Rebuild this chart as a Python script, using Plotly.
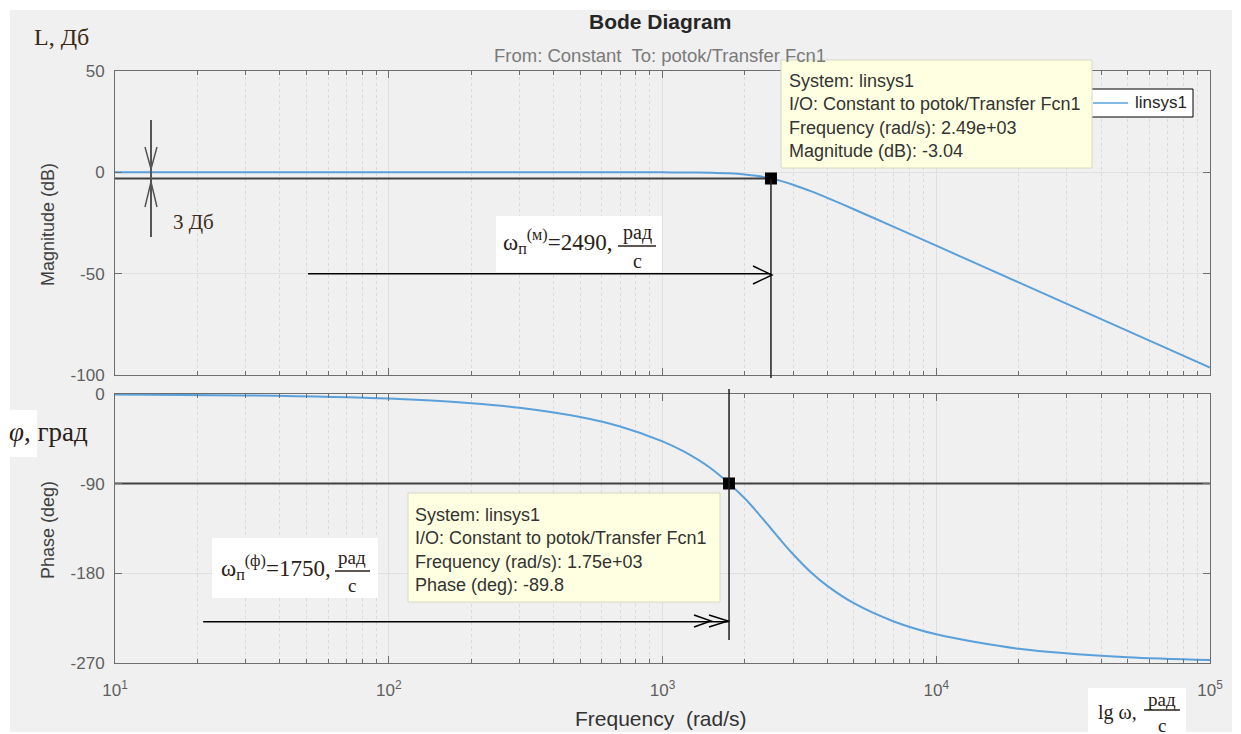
import plotly.graph_objects as go

W, H = 1241, 734
OFF = 8  # page body margin in which the figure is placed

# ---------------- data ----------------
freq_rad_s = [10, 30, 100, 200, 300, 500, 700, 1000, 1200, 1500, 1750, 2000, 2200,
              2490, 2700, 3000, 3500, 4000, 5000, 7000, 10000, 20000, 50000, 100000]
magnitude_db = [0, 0, 0, 0, 0, 0, 0, -0.02, -0.05, -0.2, -0.49, -1.03, -1.69,
                -3.04, -4.2, -6.1, -9.4, -12.6, -18.2, -26.9, -36.2, -54.3, -78.2, -96.3]
phase_deg = [-0.5, -1.4, -4.6, -9.2, -13.8, -23.1, -32.6, -47.5, -57.9, -74.5, -89.8,
             -104.9, -117.5, -135, -146.5, -160.8, -179.4, -192.6, -210, -228.3,
             -241.2, -255.7, -264.3, -267.1]

x_tick_vals = [10, 100, 1000, 10000, 100000]
x_tick_text = ["10<sup>1</sup>", "10<sup>2</sup>", "10<sup>3</sup>", "10<sup>4</sup>", "10<sup>5</sup>"]
mag_ticks = [50, 0, -50, -100]
mag_tick_text = ["50", "0", "-50", "-100"]
phase_ticks = [0, -90, -180, -270]
phase_tick_text = ["0", "-90", "-180", "-270"]

tip_mag_freq, tip_mag_val = 2490, -3.04
tip_phase_freq, tip_phase_val = 1750, -89.8
arrow_mag_start, arrow_mag_level = 50.7, -50
arrow_phase_start, arrow_phase_level = 21, -228.5

tip_mag_lines = ["System: linsys1", "I/O: Constant to potok/Transfer Fcn1",
                 "Frequency (rad/s): 2.49e+03", "Magnitude (dB): -3.04"]
tip_phase_lines = ["System: linsys1", "I/O: Constant to potok/Transfer Fcn1",
                   "Frequency (rad/s): 1.75e+03", "Phase (deg): -89.8"]

# ---------------- styling ----------------
BLUE = "#5aa0da"
FRAME = "#6e6e6e"
GRID_MAJ = "#e0e0e0"
GRID_MIN = "#dadada"
SANS = "Liberation Sans, Arial, sans-serif"
SERIF = "Liberation Serif, Times New Roman, serif"
INK = "#2a2118"


def X(px):
    return (px - OFF) / W


def Y(py):
    return 1 - (py - OFF) / H


minor_vals = [m * 10 ** e for e in range(1, 5) for m in range(2, 10)]

fig = go.Figure()

fig.add_trace(go.Scatter(x=freq_rad_s, y=magnitude_db, mode="lines", name="linsys1",
                         line=dict(color=BLUE, width=2, shape="spline", smoothing=0.8),
                         xaxis="x", yaxis="y", showlegend=False))
fig.add_trace(go.Scatter(x=freq_rad_s, y=phase_deg, mode="lines", name="linsys1",
                         line=dict(color=BLUE, width=2, shape="spline", smoothing=0.8),
                         xaxis="x2", yaxis="y2", showlegend=False))

# guide lines
fig.add_trace(go.Scatter(x=[freq_rad_s[0], tip_mag_freq], y=[tip_mag_val, tip_mag_val],
                         mode="lines", line=dict(color="#404040", width=2),
                         xaxis="x", yaxis="y", showlegend=False))
fig.add_trace(go.Scatter(x=[freq_rad_s[0], freq_rad_s[-1]], y=[tip_phase_val, tip_phase_val],
                         mode="lines", line=dict(color="#404040", width=2),
                         xaxis="x2", yaxis="y2", showlegend=False))
fig.add_trace(go.Scatter(x=[arrow_mag_start, tip_mag_freq], y=[arrow_mag_level, arrow_mag_level],
                         mode="lines", line=dict(color="#000000", width=1.5),
                         xaxis="x", yaxis="y", showlegend=False))
fig.add_trace(go.Scatter(x=[arrow_phase_start, tip_phase_freq], y=[arrow_phase_level, arrow_phase_level],
                         mode="lines", line=dict(color="#000000", width=1.5),
                         xaxis="x2", yaxis="y2", showlegend=False))

# data tip markers
fig.add_trace(go.Scatter(x=[tip_mag_freq], y=[tip_mag_val], mode="markers",
                         marker=dict(symbol="square", size=12, color="black"),
                         xaxis="x", yaxis="y", showlegend=False))
fig.add_trace(go.Scatter(x=[tip_phase_freq], y=[tip_phase_val], mode="markers",
                         marker=dict(symbol="square", size=12, color="black"),
                         xaxis="x2", yaxis="y2", showlegend=False))

xcommon = dict(type="log", range=[1, 5], domain=[X(115), X(1210)], showline=True, automargin=False,
               linecolor=FRAME, linewidth=1, mirror="ticks", ticks="inside", ticklen=7,
               tickcolor=FRAME, tickmode="array", tickvals=x_tick_vals, showgrid=True,
               gridcolor=GRID_MAJ, gridwidth=1, zeroline=False,
               minor=dict(tickmode="array", tickvals=minor_vals, ticks="inside", ticklen=4,
                          tickcolor=FRAME, showgrid=True, gridcolor=GRID_MIN, griddash="dot"))
ycommon = dict(showline=True, linecolor=FRAME, linewidth=1, mirror="ticks", ticks="inside",
               automargin=False, ticklen=7, tickcolor=FRAME, tickmode="array", showgrid=True,
               gridcolor=GRID_MAJ, zeroline=False,
               tickfont=dict(family=SANS, size=17, color="#5f5f5f"), ticklabelstandoff=6)

fig.update_layout(
    width=W, height=H, margin=dict(l=0, r=0, t=0, b=0, pad=0, autoexpand=False),
    paper_bgcolor="white", plot_bgcolor="white", showlegend=False,
    xaxis=dict(xcommon, anchor="y", showticklabels=False),
    xaxis2=dict(xcommon, anchor="y2", ticktext=x_tick_text,
                tickfont=dict(family=SANS, size=17, color="#5f5f5f"), ticklabelstandoff=12),
    yaxis=dict(ycommon, anchor="x", domain=[Y(375), Y(71)], range=[-100, 50],
               tickvals=mag_ticks, ticktext=mag_tick_text),
    yaxis2=dict(ycommon, anchor="x2", domain=[Y(663), Y(394)], range=[-270, 0],
                tickvals=phase_ticks, ticktext=phase_tick_text),
)

shapes = []
# grey figure background
shapes.append(dict(type="rect", xref="paper", yref="paper", x0=X(10), x1=X(1232), y0=Y(732), y1=Y(10),
                   fillcolor="#f0f0f0", line=dict(width=0), layer="below"))

# vertical guide lines
shapes.append(dict(type="line", xref="x", yref="paper", x0=tip_mag_freq, x1=tip_mag_freq,
                   y0=Y(179), y1=Y(378), line=dict(color="#202020", width=1.5)))
shapes.append(dict(type="line", xref="x2", yref="paper", x0=tip_phase_freq, x1=tip_phase_freq,
                   y0=Y(389), y1=Y(640), line=dict(color="#202020", width=1.5)))


def path(pts):
    return "M " + " L ".join(f"{X(a):.5f},{Y(b):.5f}" for a, b in pts)


# arrow heads (open chevrons)
shapes.append(dict(type="path", xref="paper", yref="paper", path=path([(753, 266), (772, 275), (753, 284)]),
                   line=dict(color="#000000", width=1.5)))
shapes.append(dict(type="path", xref="paper", yref="paper", path=path([(694, 615), (711, 621), (694, 627)]),
                   line=dict(color="#000000", width=1.5)))
shapes.append(dict(type="path", xref="paper", yref="paper", path=path([(709, 615), (728, 621), (709, 627)]),
                   line=dict(color="#000000", width=1.5)))

# 3 dB marker
shapes.append(dict(type="line", xref="paper", yref="paper", x0=X(151), x1=X(151), y0=Y(120), y1=Y(237),
                   line=dict(color="#555555", width=2)))
shapes.append(dict(type="path", xref="paper", yref="paper", path=path([(145, 147), (151, 169), (157, 147)]),
                   line=dict(color="#555555", width=1.5)))
shapes.append(dict(type="path", xref="paper", yref="paper", path=path([(145, 207), (151, 182), (157, 207)]),
                   line=dict(color="#555555", width=1.5)))

# white backgrounds behind hand-written formulas
for (a, b, c, d) in [(496, 216, 662, 272), (212, 538, 378, 598), (1088, 688, 1186, 734), (3, 410, 37, 457)]:
    shapes.append(dict(type="rect", xref="paper", yref="paper", x0=X(a), x1=X(c), y0=Y(d), y1=Y(b),
                       fillcolor="white", line=dict(width=0)))
# fraction bars
for (a, c, yy) in [(618, 656, 246), (335, 370, 571), (1144, 1180, 710)]:
    shapes.append(dict(type="line", xref="paper", yref="paper", x0=X(a), x1=X(c), y0=Y(yy), y1=Y(yy),
                       line=dict(color=INK, width=1.5)))

# legend box
shapes.append(dict(type="rect", xref="paper", yref="paper", x0=X(1078), x1=X(1193), y0=Y(117), y1=Y(89),
                   fillcolor="white", line=dict(color="#000000", width=1)))
shapes.append(dict(type="line", xref="paper", yref="paper", x0=X(1093), x1=X(1128), y0=Y(103), y1=Y(103),
                   line=dict(color=BLUE, width=1.5)))

# data tip boxes
shapes.append(dict(type="rect", xref="paper", yref="paper", x0=X(781), x1=X(1092), y0=Y(168), y1=Y(60),
                   fillcolor="#ffffe1", line=dict(color="#d8d8c4", width=1)))
shapes.append(dict(type="rect", xref="paper", yref="paper", x0=X(408), x1=X(720), y0=Y(602), y1=Y(493),
                   fillcolor="#ffffe1", line=dict(color="#d8d8c4", width=1)))

fig.update_layout(shapes=shapes)

ann = []


def txt(x, y, text, size, family=SANS, color="#262626", xanchor="center", yanchor="middle",
        angle=0, align="center"):
    ann.append(dict(x=X(x), y=Y(y), xref="paper", yref="paper", text=text, showarrow=False,
                    xanchor=xanchor, yanchor=yanchor, textangle=angle, align=align,
                    font=dict(family=family, size=size, color=color)))


txt(660, 22, "<b>Bode Diagram</b>", 21)
txt(660, 55, "From: Constant  To: potok/Transfer Fcn1", 18.5, color="#7a7a7a")
txt(48, 224, "Magnitude (dB)", 18, color="#404040", angle=-90)
txt(48, 530, "Phase (deg)", 18, color="#404040", angle=-90)
txt(661, 718, "Frequency  (rad/s)", 21, color="#333333")

txt(61, 37, "L, Дб", 24, family=SERIF, color="#3a2a14")
txt(7, 432, "<i>φ</i>, град", 27, family=SERIF, color=INK, xanchor="left")
txt(194, 222, "3 Дб", 21, family=SERIF, color="#3a2a14")

# formula 1
txt(501, 242, "ω<sub>п</sub><sup>(м)</sup>=2490,", 23, family=SERIF, color=INK, xanchor="left")
txt(637, 233, "рад", 20, family=SERIF, color=INK)
txt(637, 261, "с", 20, family=SERIF, color=INK)

# formula 2
txt(219, 567, "ω<sub>п</sub><sup>(ф)</sup>=1750,", 23, family=SERIF, color=INK, xanchor="left")
txt(352, 557, "рад", 19, family=SERIF, color=INK)
txt(352, 585, "с", 19, family=SERIF, color=INK)

# axis unit at bottom right
txt(1117, 712, "lg ω,", 20, family=SERIF, color=INK)
txt(1162, 699, "рад", 19, family=SERIF, color=INK)
txt(1162, 725, "с", 19, family=SERIF, color=INK)

# legend text
txt(1133, 103, "linsys1", 17, color="#262626", xanchor="left")

# data tip texts
txt(787, 116, "<br>".join(tip_mag_lines), 18, color="#333333", xanchor="left", align="left")
txt(413, 550, "<br>".join(tip_phase_lines), 18, color="#333333", xanchor="left", align="left")

fig.update_layout(annotations=ann)

fig.write_html("out.html")
